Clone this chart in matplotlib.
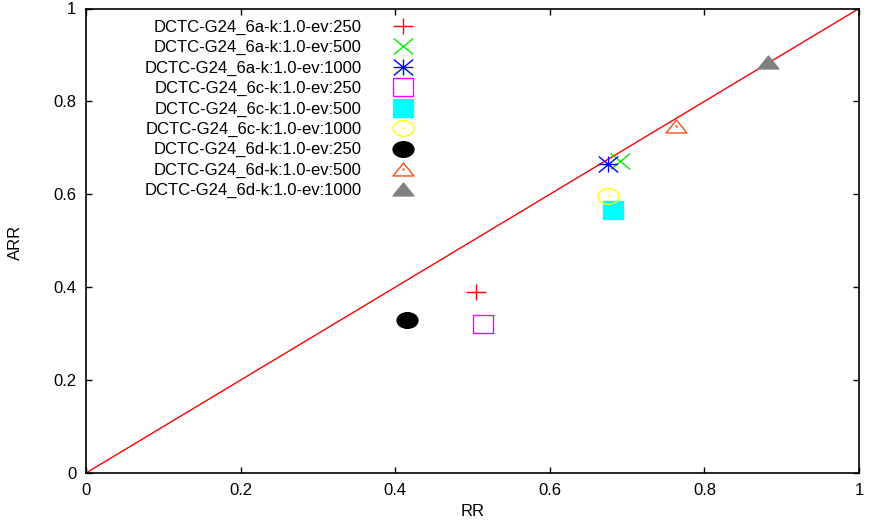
import numpy as np
import matplotlib
matplotlib.use("Agg")
import matplotlib.pyplot as plt
from matplotlib.path import Path
from matplotlib.transforms import Affine2D

plt.rcParams['font.family'] = ['Liberation Sans', 'DejaVu Sans']

# data
labels = [
    "DCTC-G24_6a-k:1.0-ev:250",
    "DCTC-G24_6a-k:1.0-ev:500",
    "DCTC-G24_6a-k:1.0-ev:1000",
    "DCTC-G24_6c-k:1.0-ev:250",
    "DCTC-G24_6c-k:1.0-ev:500",
    "DCTC-G24_6c-k:1.0-ev:1000",
    "DCTC-G24_6d-k:1.0-ev:250",
    "DCTC-G24_6d-k:1.0-ev:500",
    "DCTC-G24_6d-k:1.0-ev:1000",
]
rr = [0.505, 0.691, 0.675, 0.513, 0.682, 0.675, 0.415, 0.763, 0.882]
arr = [0.389, 0.671, 0.665, 0.321, 0.566, 0.596, 0.330, 0.748, 0.884]
colors = ["#ff0000", "#00ee00", "#0000ff", "#ff00ff", "#00ffff",
          "#ffff00", "#000000", "#ff4a1a", "#808080"]
kinds = ["plus", "cross", "star", "box", "fbox", "circ", "fcirc", "tri", "ftri"]

tick_vals = [0, 0.2, 0.4, 0.6, 0.8, 1]
tick_text = ["0", "0.2", "0.4", "0.6", "0.8", "1"]

M, L, C = Path.MOVETO, Path.LINETO, Path.CLOSEPOLY
A = 0.82   # gnuplot points come out a bit wider than tall
D = 0.04   # size of the little centre dot
FS = 12


def dot():
    return [(-D, -D), (D, -D), (D, D), (-D, D), (-D, -D)], [M, L, L, L, C]


def make_marker(kind):
    if kind == "plus":
        return Path([(-1, 0), (1, 0), (0, -A), (0, A)], [M, L, M, L])
    if kind == "cross":
        return Path([(-1, -A), (1, A), (-1, A), (1, -A)], [M, L, M, L])
    if kind == "star":
        return Path([(-1, 0), (1, 0), (0, -A), (0, A),
                     (-1, -A), (1, A), (-1, A), (1, -A)],
                    [M, L, M, L, M, L, M, L])
    if kind in ("box", "fbox"):
        v = [(-1, -A), (1, -A), (1, A), (-1, A), (-1, -A)]
        c = [M, L, L, L, C]
    elif kind in ("circ", "fcirc"):
        circ = Path.unit_circle().transformed(Affine2D().scale(1, 0.75))
        v = list(map(tuple, circ.vertices))
        c = list(circ.codes)
    else:
        v = [(0, 0.62), (-1, -0.62), (1, -0.62), (0, 0.62)]
        c = [M, L, L, C]
    if kind in ("box", "circ", "tri"):
        dv, dc = dot()
        v = v + dv
        c = c + dc
    return Path(v, c)


fig = plt.figure(figsize=(8.7, 5.22), dpi=100)
ax = fig.add_axes([86 / 870, 49 / 522, 773 / 870, 464.5 / 522])

# diagonal reference line
ax.plot([0, 1], [0, 1], color="#ff0000", lw=1.0, zorder=1)

for x, y, lab, col, kind in zip(rr, arr, labels, colors, kinds):
    filled = kind in ("fbox", "fcirc", "ftri")
    ms = 14 if kind in ("plus", "cross", "star") else 15
    ax.plot([x], [y], linestyle="none", marker=make_marker(kind),
            markersize=ms, markeredgewidth=1.0, markeredgecolor=col,
            markerfacecolor=col if filled else "none", label=lab, zorder=3)

ax.set_xlim(0, 1)
ax.set_ylim(0, 1)
ax.set_xticks(tick_vals)
ax.set_xticklabels(tick_text)
ax.set_yticks(tick_vals)
ax.set_yticklabels(tick_text)
ax.tick_params(direction="in", length=4, width=1, top=True, right=True,
               labelsize=FS, pad=7)
for s in ax.spines.values():
    s.set_linewidth(1.2)

ax.set_xlabel("RR", fontsize=FS)
ax.set_ylabel("ARR", fontsize=FS)
ax.xaxis.set_label_coords(0.5, -(512 - 473) / 464.5)
ax.yaxis.set_label_coords(-(86 - 15) / 773, (473 - 242) / 464.5)
ax.xaxis.label.set_va("center")
ax.yaxis.label.set_va("center")

leg = ax.legend(loc="upper right", frameon=False, markerfirst=False,
                fontsize=FS, handlelength=2.0, handletextpad=1.5,
                labelspacing=0.32, borderpad=0, borderaxespad=0,
                bbox_to_anchor=(420 / 870, 1 - 19.5 / 522),
                bbox_transform=fig.transFigure)

fig.savefig("out.png", dpi=100)
